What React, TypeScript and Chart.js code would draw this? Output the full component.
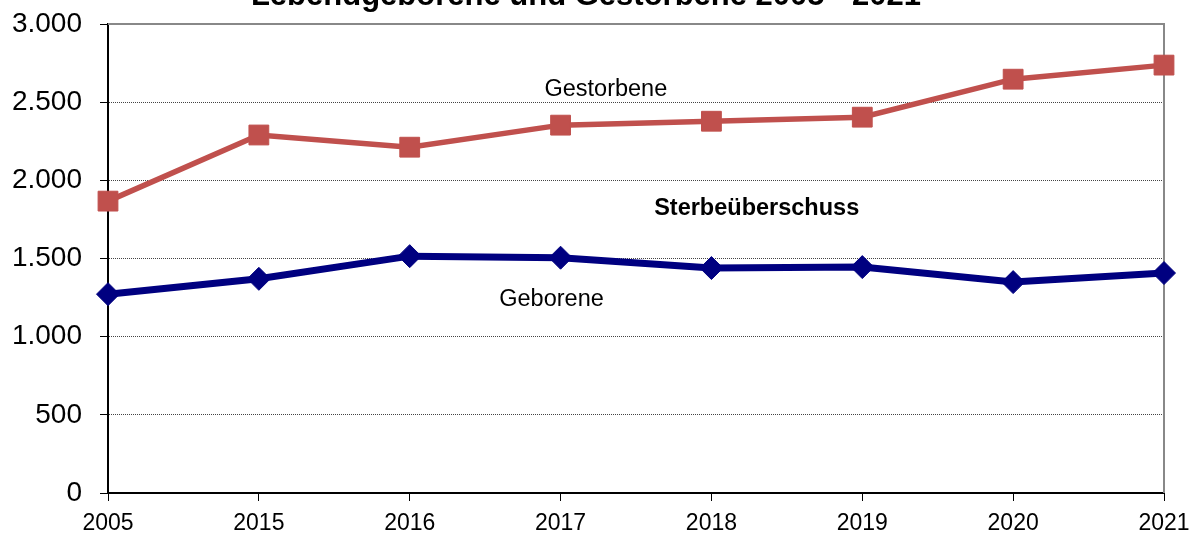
import React, { useEffect, useRef } from "react";
import { Chart, registerables } from "chart.js";

Chart.register(...registerables);

const categories = ["2005", "2015", "2016", "2017", "2018", "2019", "2020", "2021"];
const gestorbene = [1867, 2290, 2212, 2353, 2378, 2404, 2647, 2737];
const geborene = [1272, 1370, 1515, 1505, 1439, 1445, 1349, 1407];
const yTicks = [0, 500, 1000, 1500, 2000, 2500, 3000];
const titleText = "Lebendgeborene und Gestorbene 2005 - 2021";
const annotations = [
  { text: "Gestorbene", xIndex: 3.3, yValue: 2583, bold: false },
  { text: "Sterbeüberschuss", xIndex: 4.3, yValue: 1822, bold: true },
  { text: "Geborene", xIndex: 2.94, yValue: 1240, bold: false },
];

const FONT = "'Liberation Sans', Arial, sans-serif";

const fmt = (v: number) => String(v).replace(/\B(?=(\d{3})+(?!\d))/g, ".");

const framePlugin = {
  id: "frame",
  beforeDatasetsDraw(chart: any) {
    const { ctx, chartArea } = chart;
    ctx.save();
    ctx.strokeStyle = "#888888";
    ctx.lineWidth = 2;
    ctx.beginPath();
    ctx.moveTo(chartArea.left, chartArea.top);
    ctx.lineTo(chartArea.right, chartArea.top);
    ctx.lineTo(chartArea.right, chartArea.bottom);
    ctx.stroke();
    ctx.restore();
  },
  afterDraw(chart: any) {
    const { ctx } = chart;
    const xs = chart.scales.x;
    const ys = chart.scales.y;
    ctx.save();
    ctx.fillStyle = "#000";
    ctx.textAlign = "center";
    ctx.textBaseline = "alphabetic";
    ctx.font = `bold 31px ${FONT}`;
    ctx.fillText(titleText, 586, 5);
    ctx.textBaseline = "middle";
    for (const a of annotations) {
      ctx.font = `${a.bold ? "bold " : ""}23.5px ${FONT}`;
      const x0 = xs.getPixelForValue(Math.floor(a.xIndex));
      const x1 = xs.getPixelForValue(Math.min(Math.floor(a.xIndex) + 1, categories.length - 1));
      const x = x0 + (x1 - x0) * (a.xIndex - Math.floor(a.xIndex));
      ctx.fillText(a.text, x, ys.getPixelForValue(a.yValue));
    }
    ctx.restore();
  },
};

export default function App() {
  const ref = useRef<HTMLCanvasElement | null>(null);
  useEffect(() => {
    if (!ref.current) return;
    const chart = new Chart(ref.current, {
      type: "line",
      data: {
        labels: categories,
        datasets: [
          {
            label: "Gestorbene",
            data: gestorbene,
            borderColor: "#C0504D",
            backgroundColor: "#C0504D",
            borderWidth: 5.5,
            pointStyle: "rect",
            pointRadius: 14,
            pointBorderWidth: 1,
            pointBorderColor: "#C0504D",
            pointBackgroundColor: "#C0504D",
            tension: 0,
            clip: false as any,
          },
          {
            label: "Geborene",
            data: geborene,
            borderColor: "#000080",
            backgroundColor: "#000080",
            borderWidth: 7,
            pointStyle: "rectRot",
            pointRadius: 11.5,
            pointBorderWidth: 1,
            pointBorderColor: "#000080",
            pointBackgroundColor: "#000080",
            tension: 0,
            clip: false as any,
          },
        ],
      },
      options: {
        responsive: false,
        animation: false,
        devicePixelRatio: 1,
        layout: { padding: { top: 24, right: 29, left: 0, bottom: 0 } },
        plugins: {
          legend: { display: false },
          title: { display: false },
          tooltip: { enabled: false },
        },
        scales: {
          x: {
            type: "category",
            offset: false,
            afterFit: (s: any) => {
              s.height = 40;
              s.paddingLeft = 0;
              s.paddingRight = 0;
            },
            grid: {
              display: true,
              drawOnChartArea: false,
              drawTicks: true,
              tickLength: 8,
              tickColor: "#000",
              tickWidth: 1,
            },
            border: { display: true, color: "#000", width: 2 },
            ticks: {
              color: "#000",
              font: { family: FONT, size: 23 },
              padding: 9,
              maxRotation: 0,
              autoSkip: false,
            },
          },
          y: {
            min: 0,
            max: 3000,
            afterFit: (s: any) => {
              s.width = 108;
              s.paddingTop = 0;
              s.paddingBottom = 0;
            },
            afterBuildTicks: (s: any) => {
              s.ticks = yTicks.map((v) => ({ value: v }));
            },
            grid: {
              color: "#444444",
              lineWidth: 1,
              drawTicks: true,
              tickLength: 8,
              tickColor: "#000",
              tickWidth: 1,
              tickBorderDash: [],
            },
            border: { display: true, color: "#000", width: 2, dash: [1, 1] },
            ticks: {
              color: "#000",
              font: { family: FONT, size: 28 },
              padding: 18,
              callback: (v: any) => fmt(Number(v)),
            },
          },
        },
      },
      plugins: [framePlugin],
    });
    return () => chart.destroy();
  }, []);
  return (
    <div style={{ position: "absolute", left: 0, top: 0, width: 1193, height: 533, background: "#fff" }}>
      <canvas ref={ref} width={1193} height={533} style={{ width: 1193, height: 533, display: "block" }} />
    </div>
  );
}
